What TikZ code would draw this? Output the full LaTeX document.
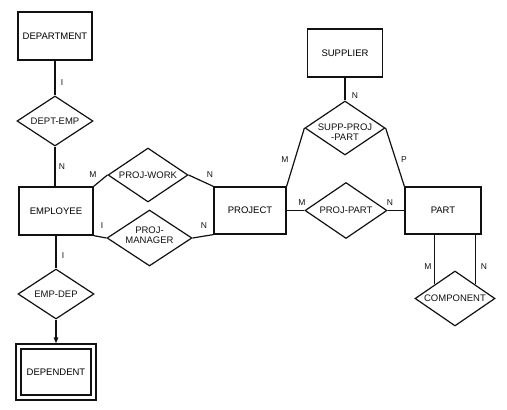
\documentclass[tikz,border=0pt]{standalone}
\usepackage{fontspec}
\setmainfont{Liberation Sans}
\usetikzlibrary{shapes.geometric,arrows.meta}
\definecolor{ink}{HTML}{111111}
\tikzset{
  ent/.style={draw=ink, line width=1.2pt, rectangle, inner sep=0pt, font=\fontsize{9.5}{10}\selectfont},
  weak/.style={ent, double, double distance=3.8pt},
  rel/.style={draw=ink, line width=1.2pt, diamond, inner sep=0pt},
  relt/.style={text=ink, align=center, inner sep=0pt, font=\fontsize{9.5}{9.5}\selectfont},
  link/.style={draw=ink, line width=1.2pt},
  card/.style={text=ink, inner sep=0pt, font=\fontsize{8.5}{9}\selectfont},
}
\begin{document}
\begin{tikzpicture}[x=1pt,y=-1pt]
  \useasboundingbox (0,0) rectangle (507,410);
  % entities
  \node[ent, minimum width=74pt, minimum height=48pt] (dept) at (55,36) {DEPARTMENT};
  \node[ent, minimum width=74pt, minimum height=48pt] (emp) at (56,211) {EMPLOYEE};
  \node[ent, minimum width=72pt, minimum height=47pt] (proj) at (250,210.5) {PROJECT};
  \node[ent, minimum width=76pt, minimum height=47pt] (part) at (443,210.5) {PART};
  \node[ent, minimum width=75pt, minimum height=48pt] (supp) at (345,53) {SUPPLIER};
  \node[weak, minimum width=75pt, minimum height=51pt] (dep) at (56,372) {DEPENDENT};
  % relationships
  \node[rel, minimum width=76pt, minimum height=50pt, label={[relt]center:DEPT-EMP}] (de) at (55,121) {};
  \node[rel, minimum width=80pt, minimum height=54pt, label={[relt]center:PROJ-WORK}] (pw) at (148,175) {};
  \node[rel, minimum width=85pt, minimum height=56pt, label={[relt, yshift=3pt]center:{PROJ-\\MANAGER}}] (pm) at (149.5,238) {};
  \node[rel, minimum width=82pt, minimum height=56pt, label={[relt]center:PROJ-PART}] (pp) at (346,210.5) {};
  \node[rel, minimum width=80pt, minimum height=54pt, label={[relt, yshift=-4pt]center:{SUPP-PROJ\\-PART}}] (spp) at (345,128) {};
  \node[rel, minimum width=80pt, minimum height=55pt, label={[relt]center:COMPONENT}] (cp) at (455,298.5) {};
  \node[rel, minimum width=76pt, minimum height=50pt, label={[relt]center:EMP-DEP}] (ed) at (56,294) {};
  % connectors
  \draw[link] (dept) -- (de);
  \draw[link] (de.south) -- (de.south |- emp.north);
  \draw[link] (emp.north east) -- (pw.west);
  \draw[link] (pw.east) -- (proj.north west);
  \draw[link] (emp.south east) -- (pm.west);
  \draw[link] (pm.east) -- (proj.south west);
  \draw[link] (proj) -- (pp);
  \draw[link] (pp) -- (part);
  \draw[link] (supp) -- (spp);
  \draw[link] (spp.west) -- (proj.north east);
  \draw[link] (spp.east) -- (part.north west);
  \draw[link] (cp.north west) -- (cp.north west |- part.south);
  \draw[link] (cp.north east) -- (cp.north east |- part.south);
  \draw[link] (emp) -- (ed);
  \draw[link, -{Triangle[length=6pt,width=4.5pt]}, shorten >=2.5pt] (ed) -- (dep);
  % cardinalities
  \node[card] (c1) at (62,83) {I};
  \node[card] (c2) at (62,167) {N};
  \node[card] (c3) at (93,175) {M};
  \node[card] (c4) at (210,175) {N};
  \node[card] (c5) at (102,226) {I};
  \node[card] (c6) at (204,226) {N};
  \node[card] (c7) at (63,256) {I};
  \node[card] (c8) at (355,96) {N};
  \node[card] (c9) at (285,160) {M};
  \node[card] (c10) at (404,160) {P};
  \node[card] (c11) at (302,203) {M};
  \node[card] (c12) at (390,203) {N};
  \node[card] (c13) at (428,267) {M};
  \node[card] (c14) at (484,267) {N};
\end{tikzpicture}
\end{document}
